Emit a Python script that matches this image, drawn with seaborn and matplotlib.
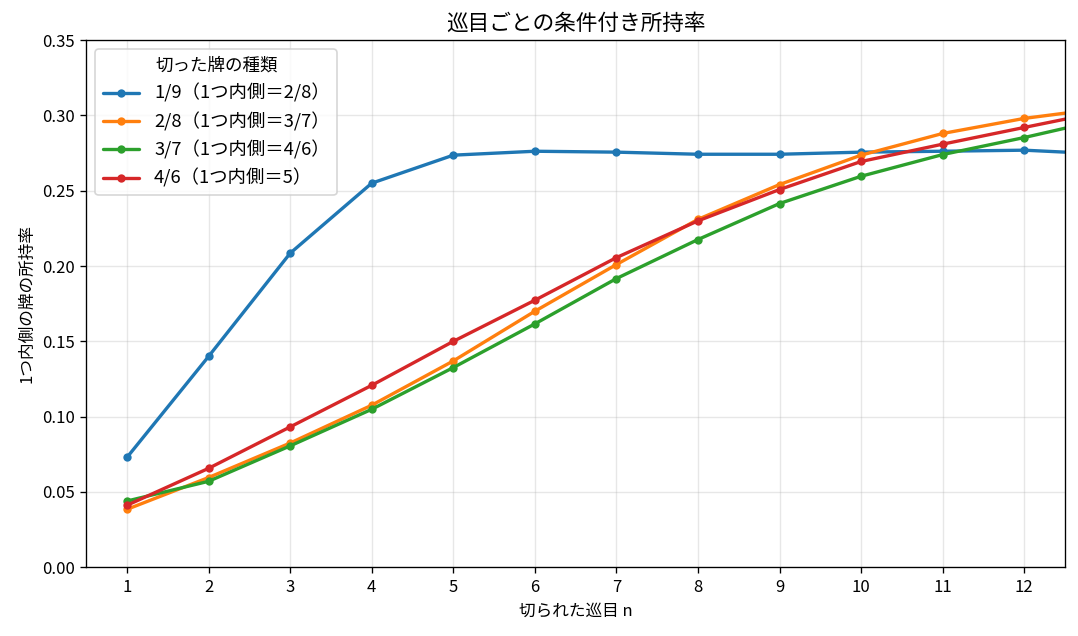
import matplotlib
matplotlib.use('Agg')
import matplotlib.pyplot as plt
import pandas as pd
import seaborn as sns

sns.set_style('ticks', {'text.color': 'black', 'axes.labelcolor': 'black',
                        'xtick.color': 'black', 'ytick.color': 'black',
                        'axes.edgecolor': 'black', 'grid.color': '#b0b0b0'})
plt.rcParams['font.family'] = ['Noto Sans CJK JP', 'DejaVu Sans']

turns = list(range(1, 14))
labels = ['1/9（1つ内側＝2/8）', '2/8（1つ内側＝3/7）', '3/7（1つ内側＝4/6）', '4/6（1つ内側＝5）']
rate_19 = [0.073, 0.140, 0.2085, 0.255, 0.2736, 0.2762, 0.2756, 0.2742, 0.2742, 0.2756, 0.2762, 0.2769, 0.2743]
rate_28 = [0.0385, 0.0596, 0.0825, 0.1076, 0.137, 0.170, 0.201, 0.231, 0.2541, 0.2736, 0.288, 0.298, 0.305]
rate_37 = [0.044, 0.0571, 0.0806, 0.1049, 0.1326, 0.1616, 0.1917, 0.2176, 0.2415, 0.2596, 0.274, 0.2853, 0.2977]
rate_46 = [0.0412, 0.0657, 0.0932, 0.1208, 0.150, 0.1773, 0.2056, 0.230, 0.2508, 0.2694, 0.2809, 0.292, 0.303]

df = pd.concat([
    pd.DataFrame({'turn': turns, 'rate': r, 'kind': lab})
    for r, lab in zip([rate_19, rate_28, rate_37, rate_46], labels)
])

fig, ax = plt.subplots(figsize=(1078 / 120, 636 / 120), dpi=120)
sns.lineplot(data=df, x='turn', y='rate', hue='kind', hue_order=labels,
             palette=['#1f77b4', '#ff7f0e', '#2ca02c', '#d62728'],
             marker='o', markersize=5, markeredgewidth=0, linewidth=2, ax=ax)

ax.set_xlim(0.5, 12.5)
ax.set_ylim(0, 0.35)
ax.set_xticks(range(1, 13))
ax.set_yticks([i * 0.05 for i in range(8)])
ax.set_yticklabels([f'{i * 0.05:.2f}' for i in range(8)])
ax.grid(True, alpha=0.3)
ax.set_title('巡目ごとの条件付き所持率', fontsize=13)
ax.set_xlabel('切られた巡目 n')
ax.set_ylabel('1つ内側の牌の所持率')
ax.legend(title='切った牌の種類', loc='upper left', fontsize=11, title_fontsize=10.5)

fig.subplots_adjust(left=0.08, right=0.988, top=0.937, bottom=0.108)
fig.savefig('out.png', dpi=120)
